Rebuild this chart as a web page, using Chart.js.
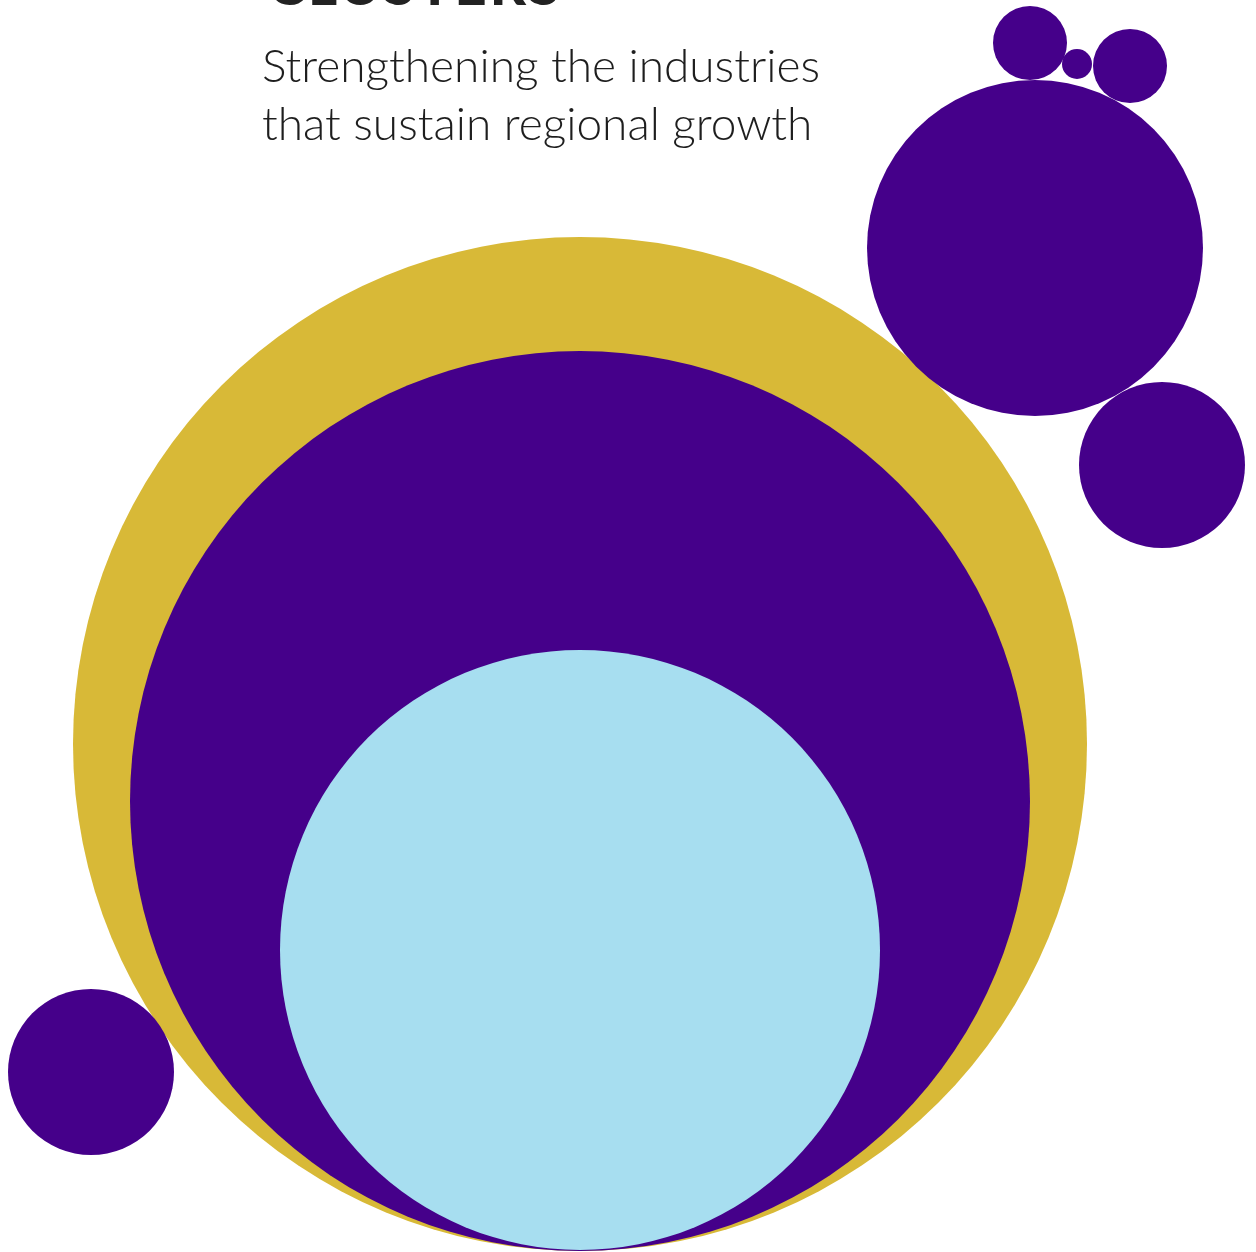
<!DOCTYPE html>
<html>
<head>
<meta charset="utf-8">
<script src="https://cdn.jsdelivr.net/npm/chart.js@4/dist/chart.umd.min.js"></script>
<style>
  html, body { margin: 0; padding: 0; background: #fff; }
  #wrap { position: relative; width: 1256px; height: 1252px; overflow: hidden; }
  #bubbles { position: absolute; left: 0; top: 0; }
  .title {
    position: absolute; left: 268px; top: -44px;
    font-family: Lato, sans-serif; font-weight: 900; font-size: 56px;
    line-height: 56px; color: #222; letter-spacing: 3px; margin: 0;
  }
  .subtitle {
    position: absolute; left: 262px; top: 36px;
    font-family: Lato, sans-serif; font-weight: 300; font-size: 46px;
    line-height: 58px; color: #1e1e1e; margin: 0;
  }
</style>
</head>
<body>
<div id="wrap">
  <canvas id="bubbles" width="1256" height="1252"></canvas>
  <h1 class="title">CLUSTERS</h1>
  <p class="subtitle">Strengthening the industries<br>that sustain regional growth</p>
</div>
<script>
// bubble layers, front to back
const layerNames = ["Core", "Cluster", "Region"];
const layerColors = ["#a7def0", "#45008a", "#d8b937"];
const layerX = [580, 580, 580];
const layerY = [950, 801, 744];
const layerR = [300, 450, 507];

// satellite bubbles
const satX = [1035, 1162, 91, 1030, 1077, 1130];
const satY = [248, 465, 1072, 43, 64, 66];
const satR = [168, 83, 83, 37, 15, 37];
const satColor = "#45008a";

const datasets = [];
layerNames.forEach((name, i) => {
  datasets.push({
    label: name,
    data: [{ x: layerX[i], y: layerY[i], r: layerR[i] }],
    backgroundColor: layerColors[i],
    borderWidth: 0,
    hoverRadius: 0,
    clip: false,
  });
});
datasets.push({
  label: "Satellites",
  data: satX.map((x, i) => ({ x: x, y: satY[i], r: satR[i] })),
  backgroundColor: satColor,
  borderWidth: 0,
  hoverRadius: 0,
  clip: false,
});
// move satellites to the front
datasets.unshift(datasets.pop());

const ctx = document.getElementById("bubbles").getContext("2d");
new Chart(ctx, {
  type: "bubble",
  data: { datasets: datasets },
  options: {
    responsive: false,
    animation: false,
    events: [],
    layout: { padding: 0, autoPadding: false },
    scales: {
      x: { display: false, min: 0, max: 1256 },
      y: { display: false, min: 0, max: 1252, reverse: true },
    },
    plugins: {
      legend: { display: false },
      tooltip: { enabled: false },
    },
  },
});
</script>
</body>
</html>
